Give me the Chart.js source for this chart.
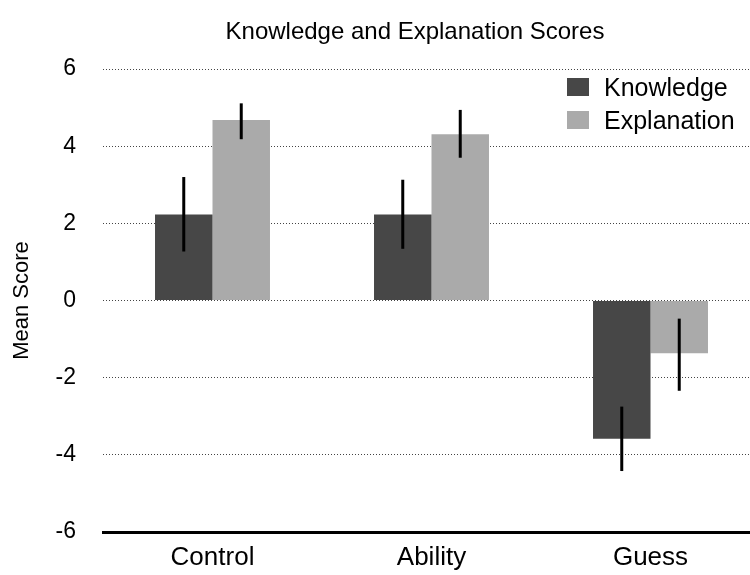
<!DOCTYPE html>
<html lang="en">
<head>
  <meta charset="UTF-8">
  <title>Knowledge and Explanation Scores</title>
  <script src="https://cdn.jsdelivr.net/npm/chart.js"></script>
  <style>
    html, body { margin: 0; padding: 0; background: #fff; overflow: hidden; }
    #wrap { width: 760px; height: 575px; position: relative; }
  </style>
</head>
<body>
<div id="wrap"><canvas id="chart"></canvas></div>

<script>
  const categories = ['Control', 'Ability', 'Guess'];
  const knowledge = [2.23, 2.23, -3.58];
  const knowledgeLow = [1.27, 1.34, -4.42];
  const knowledgeHigh = [3.20, 3.13, -2.75];
  const explanation = [4.68, 4.31, -1.37];
  const explanationLow = [4.18, 3.70, -2.34];
  const explanationHigh = [5.11, 4.94, -0.47];
  const yTicks = [-6, -4, -2, 0, 2, 4, 6];

  const FONT = "'Liberation Sans', Arial, Helvetica, sans-serif";

  // error bars drawn from the dataset's low/high arrays
  const errorBars = {
    id: 'errorBars',
    afterDatasetsDraw(chart) {
      const ctx = chart.ctx;
      const y = chart.scales.y;
      ctx.save();
      ctx.strokeStyle = '#000';
      ctx.lineWidth = 3;
      chart.data.datasets.forEach((ds, i) => {
        chart.getDatasetMeta(i).data.forEach((bar, j) => {
          ctx.beginPath();
          ctx.moveTo(bar.x, y.getPixelForValue(ds.errLow[j]));
          ctx.lineTo(bar.x, y.getPixelForValue(ds.errHigh[j]));
          ctx.stroke();
        });
      });
      ctx.restore();
    }
  };

  // title and legend placed like the original figure
  const decorations = {
    id: 'decorations',
    afterDraw(chart) {
      const ctx = chart.ctx;
      ctx.save();
      ctx.fillStyle = '#000';
      ctx.font = '24px ' + FONT;
      ctx.textAlign = 'center';
      ctx.textBaseline = 'alphabetic';
      ctx.fillText('Knowledge and Explanation Scores', 415, 39);

      ctx.font = '25px ' + FONT;
      ctx.textAlign = 'left';
      ctx.textBaseline = 'middle';
      chart.data.datasets.forEach((ds, i) => {
        const top = 78 + i * 33;
        ctx.fillStyle = ds.backgroundColor;
        ctx.fillRect(567, top, 22, 18);
        ctx.fillStyle = '#000';
        ctx.fillText(ds.label, 604, top + 11);
      });
      ctx.restore();
    }
  };

  new Chart(document.getElementById('chart'), {
    type: 'bar',
    data: {
      labels: categories,
      datasets: [
        { label: 'Knowledge', data: knowledge, errLow: knowledgeLow, errHigh: knowledgeHigh, backgroundColor: '#474747' },
        { label: 'Explanation', data: explanation, errLow: explanationLow, errHigh: explanationHigh, backgroundColor: '#aaaaaa' }
      ]
    },
    options: {
      responsive: true,
      maintainAspectRatio: false,
      animation: false,
      layout: { padding: { top: 69, right: 0, left: 6, bottom: 2 } },
      datasets: { bar: { categoryPercentage: 0.525, barPercentage: 1.0 } },
      plugins: {
        legend: { display: false },
        title: { display: false },
        tooltip: { enabled: false }
      },
      scales: {
        x: {
          afterFit(scale) { scale.height = 41; },
          grid: { display: false, drawTicks: false },
          border: { display: true, color: '#000', width: 3 },
          ticks: { color: '#000', font: { family: FONT, size: 26 }, padding: 10 }
        },
        y: {
          min: -6,
          max: 6,
          afterBuildTicks(scale) { scale.ticks = yTicks.map(v => ({ value: v })); },
          afterFit(scale) { scale.width = 97; },
          grid: {
            color: '#444',
            lineWidth: 1,
            drawTicks: false
          },
          border: { display: false, dash: [1, 2] },
          ticks: { color: '#000', font: { family: FONT, size: 23 }, padding: 27 },
          title: {
            display: true,
            text: 'Mean Score',
            color: '#000',
            font: { family: FONT, size: 22 },
            padding: { top: 3, bottom: 0 }
          }
        }
      }
    },
    plugins: [errorBars, decorations]
  });
</script>
</body>
</html>
